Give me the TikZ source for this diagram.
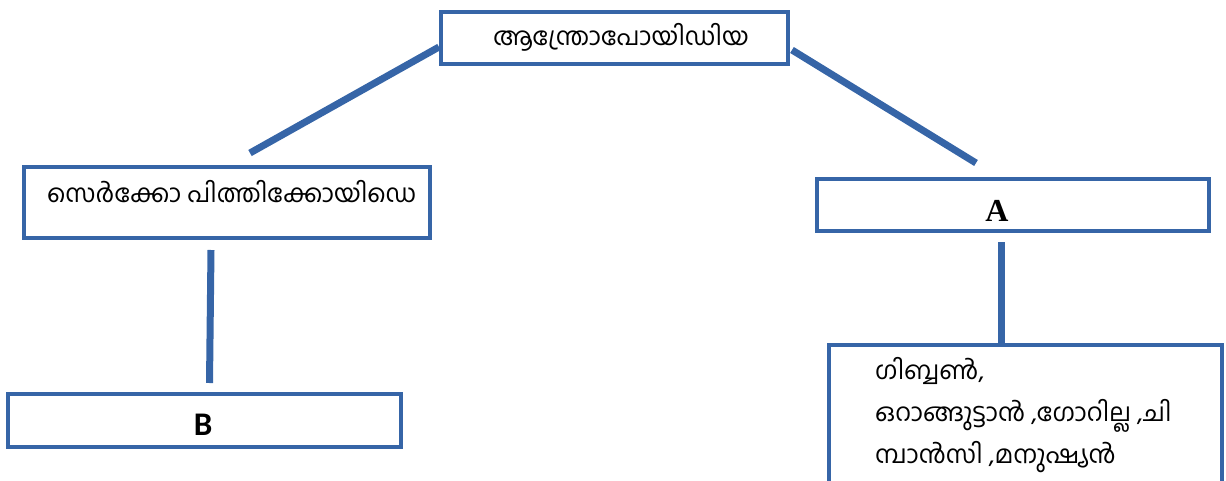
\documentclass[tikz,border=0pt]{standalone}
\usepackage{fontspec}
\usetikzlibrary{calc}
\newfontfamily\mlfont[Script=Malayalam]{Hind Kochi}
\newfontfamily\timesfont{Liberation Serif}
\newfontfamily\calfont{Carlito}
\definecolor{boxblue}{RGB}{54,101,167}

\begin{document}
\begin{tikzpicture}[x=1pt, y=-1pt,
		box/.style={draw=boxblue, line width=4pt, inner sep=0pt},
		link/.style={draw=boxblue, line width=7pt},
		mltext/.style={font=\mlfont\fontsize{25}{42}\selectfont, inner sep=0pt}]
		\useasboundingbox (0,0) rectangle (1226,481);
		\node[box, minimum width=347pt, minimum height=52pt] (Anthropoidea) at (614.5,38) {};
		\node[box, minimum width=406pt, minimum height=71pt] (Cercopithecoidea) at (227,202.5) {};
		\node[box, minimum width=392pt, minimum height=52pt] (BoxA) at (1013,205) {};
		\node[box, minimum width=393pt, minimum height=53pt] (BoxB) at (204.5,420.5) {};
		\node[box, minimum width=393pt, minimum height=180pt] (Apes) at (1025.5,435) {};
		\node[mltext, anchor=base] (AnthropoideaLabel) at (621,46) {ആന്ത്രോപോയിഡിയ};
		\node[mltext, anchor=base west] (CercoLabel) at (47,203) {സെർക്കോ പിത്തിക്കോയിഡെ};
		\node[inner sep=0pt, font=\timesfont\bfseries\fontsize{32}{36}\selectfont] (LabelA) at (997,211) {A};
		\node[inner sep=0pt, font=\calfont\bfseries\fontsize{33}{36}\selectfont] (LabelB) at (203,425) {B};
		\node[mltext, anchor=north west, align=left] (ApesLabel) at (875,357) {ഗിബ്ബൺ,\\ഒറാങ്ങുട്ടാൻ ,ഗോറില്ല ,ചി\\മ്പാൻസി ,മനുഷ്യൻ};
		\draw[link] ($(Anthropoidea.west)+(0,9)$) -- ($(Cercopithecoidea.north)+(23,-12)$);
		\draw[link] ($(Anthropoidea.east)+(2,12)$) -- ($(BoxA.north)+(-37,-14)$);
		\draw[link] ($(Cercopithecoidea.south)+(-16,10)$) -- ($(BoxB.north)+(5,-9)$);
		\draw[link] ($(BoxA.south)+(-12,9)$) -- ($(Apes.north)+(-24.5,0)$);
\end{tikzpicture}
\end{document}
